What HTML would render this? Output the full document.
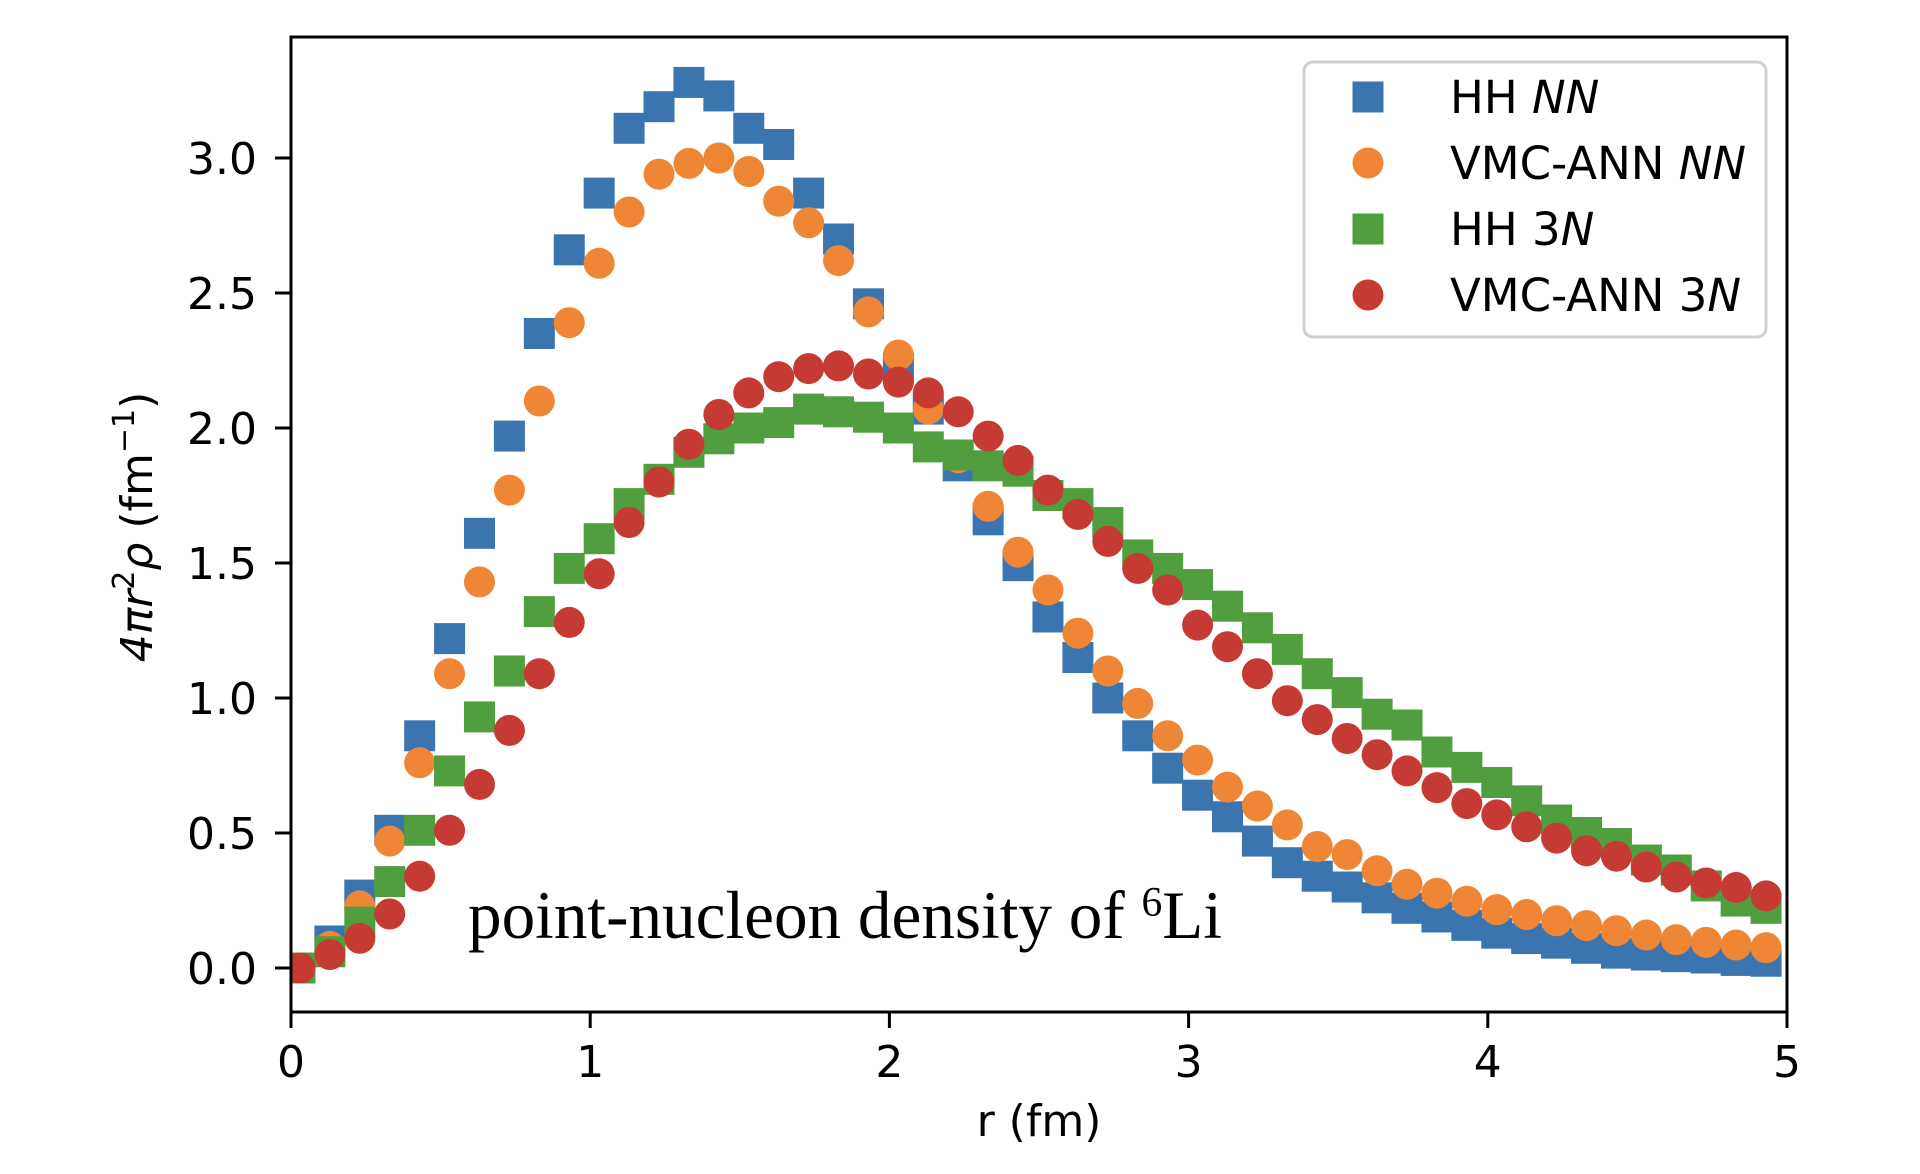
<!DOCTYPE html>
<html><head><meta charset="utf-8"><style>
html,body{margin:0;padding:0;background:#fff;}
svg{display:block;}
</style></head>
<body>
<svg id="chart" xmlns="http://www.w3.org/2000/svg" width="1920" height="1174" viewBox="0 0 1920 1174" font-family="'DejaVu Sans','Liberation Sans',sans-serif">
<rect width="1920" height="1174" fill="#fff"/>
<g id="marks"></g>
<g id="axes"></g>
<g id="legend">
  <rect x="1304" y="62" width="462" height="275" rx="9" fill="#fff" fill-opacity="0.8" stroke="#d0d0d0" stroke-width="3"/>
  <rect x="1352.5" y="81.5" width="31" height="31" fill="#3b75af"/>
  <text x="1450" y="113" font-size="45">HH <tspan font-style="italic">NN</tspan></text>
  <circle cx="1368" cy="163" r="15.5" fill="#ef8636"/>
  <text x="1450" y="179" font-size="45">VMC-ANN <tspan font-style="italic">NN</tspan></text>
  <rect x="1352.5" y="213.5" width="31" height="31" fill="#519e3e"/>
  <text x="1450" y="245" font-size="45">HH 3<tspan font-style="italic">N</tspan></text>
  <circle cx="1368" cy="295" r="15.5" fill="#c53a32"/>
  <text x="1450" y="311" font-size="45">VMC-ANN 3<tspan font-style="italic">N</tspan></text>
</g>
<text x="468" y="938" font-family="'Liberation Serif',serif" font-size="68" textLength="754" lengthAdjust="spacingAndGlyphs">point-nucleon density of <tspan font-size="42" dy="-22">6</tspan><tspan dy="22">Li</tspan></text>
</svg>
<script>
const xCats = [0.03,0.13,0.23,0.33,0.43,0.53,0.63,0.73,0.83,0.93,1.03,1.13,1.23,1.33,1.43,1.53,1.63,1.73,1.83,1.93,2.03,2.13,2.23,2.33,2.43,2.53,2.63,2.73,2.83,2.93,3.03,3.13,3.23,3.33,3.43,3.53,3.63,3.73,3.83,3.93,4.03,4.13,4.23,4.33,4.43,4.53,4.63,4.73,4.83,4.93];
const hhNN = [0.0,0.10,0.27,0.51,0.86,1.22,1.61,1.97,2.35,2.66,2.87,3.11,3.19,3.28,3.23,3.11,3.05,2.87,2.70,2.46,2.22,2.07,1.86,1.66,1.49,1.30,1.15,1.00,0.86,0.74,0.64,0.56,0.47,0.39,0.34,0.30,0.26,0.221,0.189,0.158,0.129,0.109,0.092,0.073,0.055,0.048,0.042,0.037,0.028,0.025];
const vmcNN = [0.0,0.08,0.23,0.47,0.76,1.09,1.43,1.77,2.10,2.39,2.61,2.80,2.94,2.98,3.00,2.95,2.84,2.76,2.62,2.43,2.27,2.07,1.89,1.71,1.54,1.40,1.24,1.10,0.98,0.86,0.77,0.67,0.60,0.53,0.45,0.42,0.36,0.31,0.277,0.247,0.216,0.198,0.175,0.157,0.138,0.122,0.105,0.095,0.085,0.075];
const hh3N = [0.0,0.06,0.17,0.32,0.51,0.73,0.93,1.10,1.32,1.48,1.59,1.72,1.81,1.91,1.96,2.00,2.02,2.07,2.06,2.04,2.00,1.93,1.90,1.86,1.84,1.75,1.72,1.65,1.53,1.48,1.42,1.34,1.26,1.18,1.09,1.02,0.94,0.90,0.80,0.743,0.687,0.619,0.548,0.502,0.461,0.40,0.363,0.304,0.248,0.221];
const vmc3N = [0.0,0.05,0.11,0.20,0.34,0.51,0.68,0.88,1.09,1.28,1.46,1.65,1.80,1.94,2.05,2.13,2.19,2.22,2.23,2.20,2.17,2.13,2.06,1.97,1.88,1.77,1.68,1.58,1.48,1.40,1.27,1.19,1.09,0.99,0.92,0.85,0.79,0.73,0.668,0.609,0.567,0.523,0.481,0.434,0.414,0.374,0.337,0.315,0.298,0.267];
const xTicks = [0,1,2,3,4,5];
const xTickLabels = ["0","1","2","3","4","5"];
const yTicks = [0,0.5,1.0,1.5,2.0,2.5,3.0];
const yTickLabels = ["0.0","0.5","1.0","1.5","2.0","2.5","3.0"];

const NS = "http://www.w3.org/2000/svg";
const L = 291, R = 1787, T = 37, B = 1012;
const X0 = 291, XS = 299.2, Y0 = 968, YS = 270;
function sx(v){ return X0 + v*XS; }
function sy(v){ return Y0 - v*YS; }
function mk(tag, attrs){ const e = document.createElementNS(NS, tag); for (const k in attrs) e.setAttribute(k, attrs[k]); return e; }

const marks = document.getElementById('marks');
const clip = mk('clipPath', {id:'plotclip'});
clip.appendChild(mk('rect', {x:L, y:T, width:R-L, height:B-T}));
marks.appendChild(clip);
marks.setAttribute('clip-path', 'url(#plotclip)');

const S = 31;
function drawSquares(vals, color, name){
  const g = mk('g', {});
  
  
  vals.forEach((v, i) => {
    const r = mk('rect', {x: sx(xCats[i]) - S/2, y: sy(v) - S/2, width: S, height: S, fill: color});
    
    
    g.appendChild(r);
  });
  marks.appendChild(g);
}
function drawCircles(vals, color, name){
  const g = mk('g', {});
  
  
  vals.forEach((v, i) => {
    const c = mk('circle', {cx: sx(xCats[i]), cy: sy(v), r: S/2, fill: color});
    
    
    g.appendChild(c);
  });
  marks.appendChild(g);
}
drawSquares(hhNN, '#3b75af', 'series-hh-nn');
drawCircles(vmcNN, '#ef8636', 'series-vmc-ann-nn');
drawSquares(hh3N, '#519e3e', 'series-hh-3n');
drawCircles(vmc3N, '#c53a32', 'series-vmc-ann-3n');

const axes = document.getElementById('axes');
const frame = mk('rect', {x:L, y:T, width:R-L, height:B-T, fill:'none', stroke:'#000', 'stroke-width':3});


axes.appendChild(frame);

xTicks.forEach((t, i) => {
  const x = sx(t);
  const tk = mk('line', {x1:x, y1:B, x2:x, y2:B+16, stroke:'#000', 'stroke-width':3});
  
  
  axes.appendChild(tk);
  const tx = mk('text', {x:x, y:1077, 'text-anchor':'middle', 'font-size':44});
  
  
  tx.textContent = xTickLabels[i];
  axes.appendChild(tx);
});
yTicks.forEach((t, i) => {
  const y = sy(t);
  const tk = mk('line', {x1:L-16, y1:y, x2:L, y2:y, stroke:'#000', 'stroke-width':3});
  
  
  axes.appendChild(tk);
  const tx = mk('text', {x:257, y:y+16, 'text-anchor':'end', 'font-size':44});
  
  
  tx.textContent = yTickLabels[i];
  axes.appendChild(tx);
});

const xl = mk('text', {x:1039, y:1136, 'text-anchor':'middle', 'font-size':44});


xl.textContent = 'r (fm)';
axes.appendChild(xl);

const yl = mk('text', {x:0, y:0, 'text-anchor':'middle', 'font-size':44, transform:'translate(152,527) rotate(-90)'});


yl.innerHTML = '<tspan font-style="italic">4πr</tspan><tspan font-size="30" dy="-18">2</tspan><tspan font-style="italic" dy="18">ρ</tspan> (fm<tspan font-size="30" dy="-18">−1</tspan><tspan dy="18">)</tspan>';
axes.appendChild(yl);
</script>
</body></html>
